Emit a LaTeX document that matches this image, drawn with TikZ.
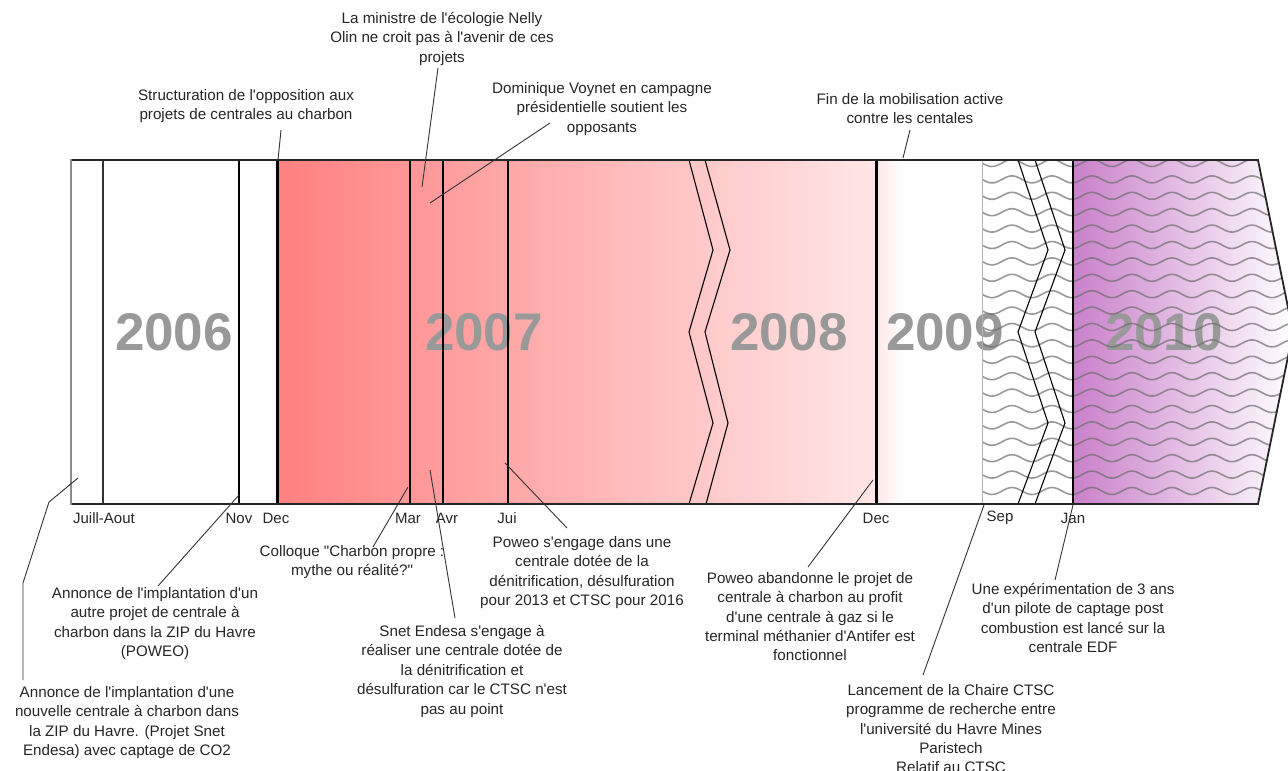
\documentclass[tikz,border=0pt]{standalone}
\usepackage{fontspec}
\setmainfont{Liberation Sans}[Ligatures=TeXOff]
\definecolor{redA}{RGB}{255,128,128}
\definecolor{redB}{RGB}{255,230,230}
\definecolor{purp}{RGB}{202,128,202}
\definecolor{yeargray}{RGB}{153,153,153}
\definecolor{wavegray}{RGB}{110,110,110}
\begin{document}
\begin{tikzpicture}[x=1pt,y=-1pt,
  lbl/.style={font=\fontsize{15.2}{19.4}\selectfont, align=center, inner sep=0pt, anchor=north, text=black!85},
  month/.style={font=\fontsize{15}{18}\selectfont, inner sep=0pt, text=black!85},
  year/.style={font=\fontsize{53}{60}\selectfont\bfseries, text=yeargray, inner sep=0pt},
  conn/.style={draw=black!80, line width=0.9pt},
  mline/.style={draw=black, line width=#1},
  zig/.style={draw=black, line width=1.1pt, line join=miter},
  wave/.style={draw=wavegray, opacity=0.7, line width=1.6pt},
]
\useasboundingbox (0,0) rectangle (1288,771);

% ---- band fills ----
\fill[white] (71,160) rectangle (277,504);
\shade[left color=redA, right color=redB] (277,160) rectangle (876,504);
\shade[left color=redB, right color=white] (876,160) rectangle (902,504);
\shade[left color=purp, right color=white] (1073,160) -- (1258,160) -- (1293,332) -- (1258,504) -- (1073,504) -- cycle;

% ---- year labels ----
\node[year] (y2006) at (174,332) {2006};
\node[year] (y2007) at (484,332) {2007};
\node[year] (y2008) at (789,332) {2008};
\node[year] (y2009) at (945,332) {2009};
\node[year] (y2010) at (1164,332) {2010};

% ---- wave pattern ----
\begin{scope}
  \clip (982,160) -- (1258,160) -- (1293,332) -- (1258,504) -- (982,504) -- cycle;
  \foreach \k in {0,...,21} {
    \draw[wave] plot[domain=982:1296, samples=140, smooth]
      (\x, {163+\k*16.4 + 3.5*sin((\x-982)*9)});
  }
\end{scope}

% ---- vertical separators ----
\draw[draw=black!80, line width=2pt] (103,160) -- (103,504);
\draw[mline=1.3pt] (239,160) -- (239,504);
\draw[mline=3pt] (277,160) -- (277,504);
\draw[mline=2pt] (410,160) -- (410,504);
\draw[mline=2pt] (443,160) -- (443,504);
\draw[mline=2.5pt] (508,160) -- (508,504);
\draw[mline=3pt] (876,160) -- (876,504);
\draw[draw=black!30, line width=1pt] (982,160) -- (982,504);
\draw[mline=1.5pt] (1073,160) -- (1073,504);

% ---- zigzag breaks ----
\draw[zig] (689,160) -- (713,250) -- (689,332) -- (713,423) -- (689,504);
\draw[zig] (705,160) -- (730,250) -- (705,332) -- (728,423) -- (706,504);
\draw[zig] (1018,160) -- (1048,250) -- (1018,332) -- (1048,423) -- (1018,504);
\draw[zig] (1035,160) -- (1065,250) -- (1035,332) -- (1065,423) -- (1035,504);

% ---- outline ----
\draw[draw=black!85, line width=1.8pt, line join=miter] (71,160) -- (1258,160) -- (1293,332) -- (1258,504) -- (71,504);
\draw[draw=black!45, line width=1.5pt] (71,159) -- (71,505);

% ---- month labels ----
\node[month] (mJA)  at (104,518) {Juill-Aout};
\node[month] (mNov) at (239,518) {Nov};
\node[month] (mDec) at (276,518) {Dec};
\node[month] (mMar) at (408,518) {Mar};
\node[month] (mAvr) at (447,518) {Avr};
\node[month] (mJui) at (507,518) {Jui};
\node[month] (mDec2) at (876,518) {Dec};
\node[month] (mSep) at (1000,518) {Sep};
\node[month] (mJan) at (1073,518) {Jan};

% ---- upper callouts ----
\node[lbl] (struct) at (246,89) {Structuration de l'opposition aux\\projets de centrales au charbon};
\node[lbl] (ministre) at (442,12) {La ministre de l'écologie Nelly\\Olin ne croit pas à l'avenir de ces\\projets};
\node[lbl] (voynet) at (602,82) {Dominique Voynet en campagne\\présidentielle soutient les\\opposants};
\node[lbl] (fin) at (910,93) {Fin de la mobilisation active\\contre les centales};

% ---- lower callouts ----
\node[lbl] (snet1) at (127,686) {Annonce de l'implantation d'une\\nouvelle centrale à charbon dans\\la ZIP du Havre. (Projet Snet\\Endesa) avec captage de CO2};
\node[lbl] (poweo1) at (155,587) {Annonce de l'implantation d'un\\autre projet de centrale à\\charbon dans la ZIP du Havre\\(POWEO)};
\node[lbl] (colloque) at (352,545) {Colloque "Charbon propre :\\mythe ou réalité?"};
\node[lbl] (snet2) at (462,625) {Snet Endesa s'engage à\\réaliser une centrale dotée de\\la dénitrification et\\désulfuration car le CTSC n'est\\pas au point};
\node[lbl] (poweo2) at (582,536) {Poweo s'engage dans une\\centrale dotée de la\\dénitrification, désulfuration\\pour 2013 et CTSC pour 2016};
\node[lbl] (poweo3) at (810,572) {Poweo abandonne le projet de\\centrale à charbon au profit\\d'une centrale à gaz si le\\terminal méthanier d'Antifer est\\fonctionnel};
\node[lbl] (chaire) at (951,684) {Lancement de la Chaire CTSC\\programme de recherche entre\\l'université du Havre Mines\\Paristech\\Relatif au CTSC};
\node[lbl] (edf) at (1073,583) {Une expérimentation de 3 ans\\d'un pilote de captage post\\combustion est lancé sur la\\centrale EDF};

% ---- connector end points ----
\coordinate (aJA) at (78,478);   \coordinate (bJA) at (23,680);
\coordinate (aNov) at (239,495); \coordinate (bNov) at (158,586);
\coordinate (aStr) at (278,160); \coordinate (bStr) at (281,130);
\coordinate (aMin) at (422,187); \coordinate (bMin) at (438,68);
\coordinate (aVoy) at (430,203); \coordinate (bVoy) at (550,123);
\coordinate (aFin) at (903,158); \coordinate (bFin) at (910,130);
\coordinate (aMar) at (408,487); \coordinate (bMar) at (373,547);
\coordinate (aSn)  at (430,470); \coordinate (bSn)  at (455,618);
\coordinate (aPw)  at (505,463); \coordinate (bPw)  at (567,528);
\coordinate (aDec) at (873,480); \coordinate (bDec) at (808,567);
\coordinate (aSep) at (984,505); \coordinate (bSep) at (923,675);
\coordinate (aJan) at (1073,505);\coordinate (bJan) at (1055,580);

% ---- connectors ----
\draw[conn] (aJA) -- (49,502) -- (23,583) -- (bJA);
\draw[conn] (aNov) -- (bNov);
\draw[conn] (aStr) -- (bStr);
\draw[conn] (aMin) -- (bMin);
\draw[conn] (aVoy) -- (bVoy);
\draw[conn] (aFin) -- (bFin);
\draw[conn] (aMar) -- (bMar);
\draw[conn] (aSn) -- (bSn);
\draw[conn] (aPw) -- (bPw);
\draw[conn] (aDec) -- (bDec);
\draw[conn] (aSep) -- (bSep);
\draw[conn] (aJan) -- (bJan);
\end{tikzpicture}
\end{document}
